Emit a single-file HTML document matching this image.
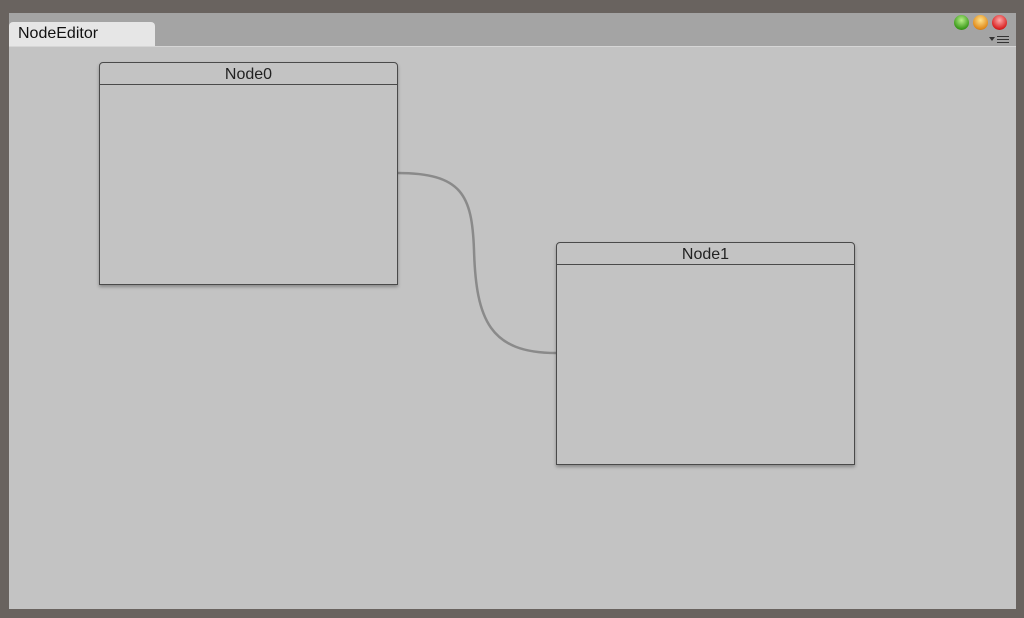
<!DOCTYPE html>
<html><head><style>
body{margin:0;width:1024px;height:618px;background:#69635f;position:relative;overflow:hidden;font-family:"Liberation Sans",sans-serif}
.win{position:absolute;left:9px;top:13px;width:1007px;height:596px;background:#a4a4a4}
.content{position:absolute;left:9px;top:46px;width:1007px;height:563px;background:#c3c3c3;border-top:1px solid #d6d6d6;box-sizing:border-box}
.tab{position:absolute;left:9px;top:22px;width:146px;height:24px;background:#e6e6e6;border-radius:4px 4px 0 0;font-size:16px;color:#111;line-height:24px;padding-left:9px;box-sizing:border-box}
.node{position:absolute;width:299px;height:223px;border:1.5px solid #4a4a4a;border-radius:4px 4px 0 0;background:#c3c3c3;box-shadow:0 2px 3px rgba(0,0,0,.3);box-sizing:border-box}
.node .h{height:21px;border-bottom:1.5px solid #4a4a4a;text-align:center;font-size:16px;line-height:23px;color:#222}
.dot{position:absolute;top:15px;width:15px;height:15px;border-radius:50%}
</style></head><body>
<div class="win"></div>
<div class="content"></div>
<div class="tab">NodeEditor</div>
<div class="dot" style="left:954px;background:radial-gradient(circle at 50% 35%,#b9f08a,#3a9a1a 70%,#2a6a10)"></div>
<div class="dot" style="left:973px;background:radial-gradient(circle at 50% 35%,#ffe28a,#e08a1a 70%,#a05a10)"></div>
<div class="dot" style="left:992px;background:radial-gradient(circle at 50% 35%,#ffaaaa,#d82020 70%,#901010)"></div>
<div style="position:absolute;left:997px;top:36px;width:12px;font-size:0">
<div style="height:1px;background:#333;margin-bottom:2px"></div><div style="height:1px;background:#333;margin-bottom:2px"></div><div style="height:1px;background:#333"></div></div>
<div style="position:absolute;left:989px;top:37px;border:3px solid transparent;border-top:4px solid #333"></div>
<svg style="position:absolute;left:0;top:0" width="1024" height="618"><path d="M397 173 C462 173 472 195 474 250 C476 320 490 353 556 353" fill="none" stroke="#8a8a8a" stroke-width="2.5"/></svg>
<div class="node" style="left:99px;top:62px"><div class="h">Node0</div></div>
<div class="node" style="left:556px;top:242px"><div class="h">Node1</div></div>
</body></html>
